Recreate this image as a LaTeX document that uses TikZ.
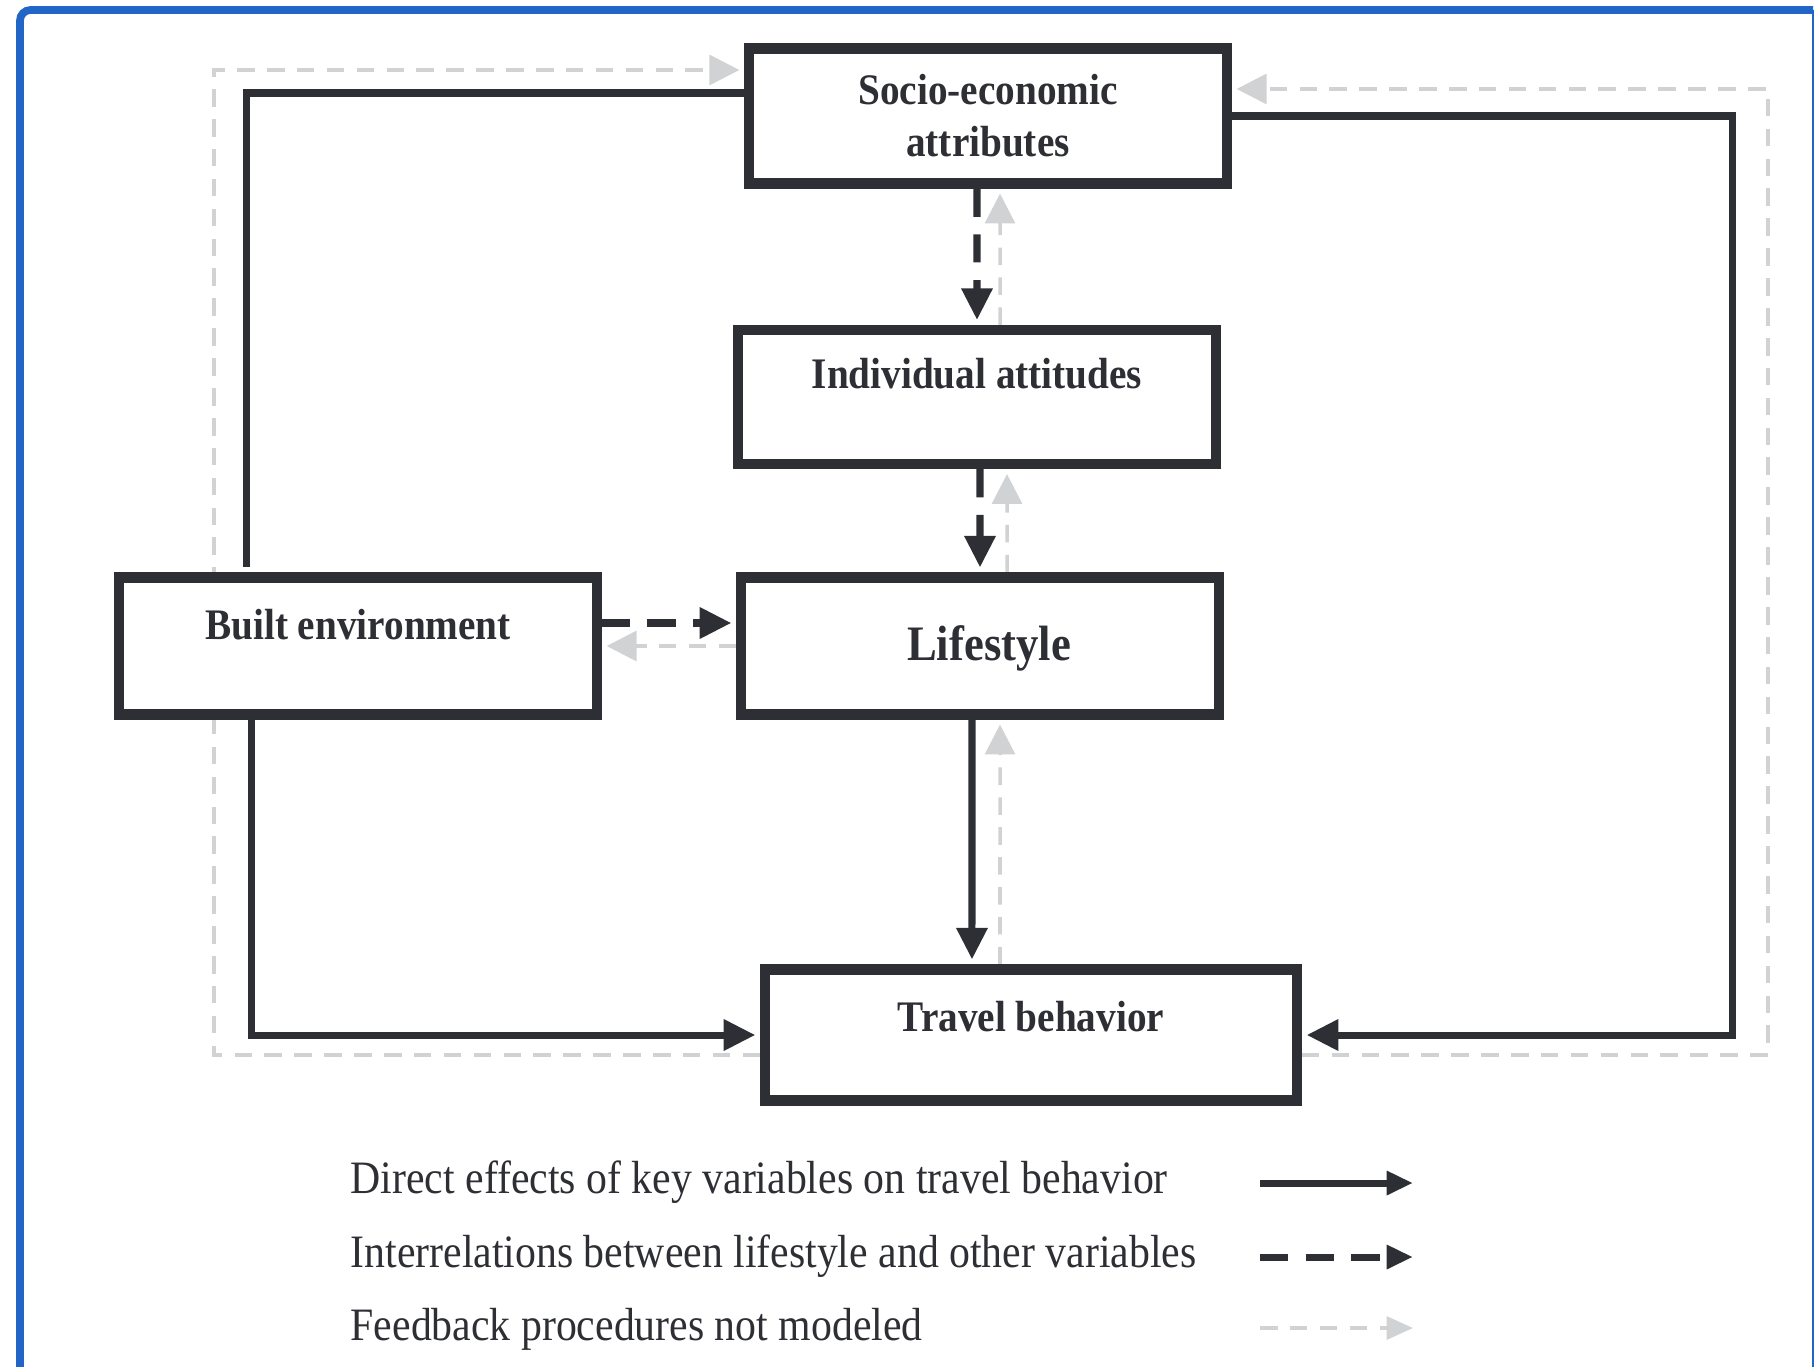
\documentclass[tikz,border=0pt]{standalone}
\usepackage{fontspec}
\setmainfont{Liberation Serif}[FakeStretch=0.9]
\usetikzlibrary{arrows.meta,backgrounds}
\definecolor{inkdark}{RGB}{45,47,52}
\definecolor{fbgray}{RGB}{208,210,212}
\definecolor{frameblue}{RGB}{33,102,198}

\begin{document}
\begin{tikzpicture}[
        x=0.01cm, y=-0.01cm,
        box/.style = {shape=rectangle, draw=inkdark, line width=2.9pt, fill=white, inner sep=0pt, minimum width=4.77cm, text=inkdark, align=center, font=\fontsize{12.4}{14.8}\selectfont\bfseries},
        direct/.style = {draw=inkdark, line width=2pt, -{Triangle[length=9pt,width=8.5pt]}, shorten >=1.4pt},
        interrel/.style = {direct, dash pattern=on 8pt off 5pt},
        feedback/.style = {draw=fbgray, line width=1pt, dash pattern=on 5pt off 3.5pt, -{Triangle[length=8.5pt,width=8.5pt]}, shorten >=1.4pt},
        legtext/.style = {anchor=base west, inner sep=0pt, text=inkdark, font=\fontsize{13.2}{15}\selectfont},
        legarrow/.style = {-{Triangle[length=7.5pt,width=6.5pt]}, shorten >=0pt}
    ]
    \useasboundingbox (0,0) rectangle (1818,1366);

    % frame
    \draw[frameblue, line width=2.2pt, rounded corners=3pt] (20,1380) -- (20,10) -- (1813,10);
    \draw[frameblue, line width=0.7pt] (1813,10) -- (1813,1380);

    % boxes
    \node[box, minimum height=1.35cm] (soc) at (988,116) {Socio-economic\\attributes};
    \node[box, minimum height=1.34cm, text height=0.585cm, text depth=0.755cm] (ind) at (977,397) {Individual attitudes};
    \node[box, minimum height=1.37cm, text height=0.615cm, text depth=0.755cm] (built) at (358,646) {Built environment};
    \node[box, minimum height=1.37cm, text height=0.825cm, text depth=0.545cm, font=\fontsize{14.1}{16}\selectfont\bfseries] (life) at (980,646) {\hspace*{0.18cm}Lifestyle};
    \node[box, minimum width=5.31cm, minimum height=1.31cm, text height=0.615cm, text depth=0.695cm] (trav) at (1031,1035) {Travel behavior};

    \begin{scope}[on background layer]
        % feedback loops (not modeled)
        \coordinate (fbl) at (214,70);
        \coordinate (fbr) at (1768,89);
        \draw[feedback] ([yshift=-0.2cm]trav.west) -| (fbl) |- ([yshift=0.46cm]soc.west);
        \draw[feedback] ([yshift=-0.2cm]trav.east) -| (fbr) |- ([yshift=0.27cm]soc.east);
        \draw[feedback] ([xshift=0.23cm]ind.north) -- ([xshift=0.12cm]soc.south);
        \draw[feedback] ([xshift=0.27cm]life.north) -- ([xshift=0.3cm]ind.south);
        \draw[feedback] (life.west) -- (built.east);
        \draw[feedback] ([xshift=-0.31cm]trav.north) -- ([xshift=0.2cm]life.south);

        % direct effects
        \coordinate (dr) at (1732,116);
        \draw[direct, -] ([yshift=0.23cm]soc.west) -| ([xshift=-1.11cm]built.north);
        \draw[direct] ([xshift=-1.06cm]built.south) |- (trav.west);
        \draw[direct] (soc.east) -- (dr) |- (trav.east);
        \draw[direct] ([xshift=-0.08cm]life.south) -- ([xshift=-0.59cm]trav.north);

        % interrelations
        \draw[interrel] ([xshift=-0.11cm]soc.south) -- (ind.north);
        \draw[interrel] ([xshift=0.03cm]ind.south) -- (life.north);
        \draw[interrel] ([yshift=0.23cm]built.east) -- ([yshift=0.23cm]life.west);
    \end{scope}

    % legend
    \node[legtext] (leg1) at (350,1193) {Direct effects of key variables on travel behavior};
    \node[legtext] (leg2) at (350,1267) {Interrelations between lifestyle and other variables};
    \node[legtext] (leg3) at (350,1340) {Feedback procedures not modeled};
    \foreach \sty/\yy [count=\i] in {direct/1183, interrel/1257, feedback/1328} {
        \coordinate (ls\i) at (1260,\yy);
        \coordinate (le\i) at (1413,\yy);
        \draw[\sty, legarrow] (ls\i) -- (le\i);
    }
\end{tikzpicture}
\end{document}
